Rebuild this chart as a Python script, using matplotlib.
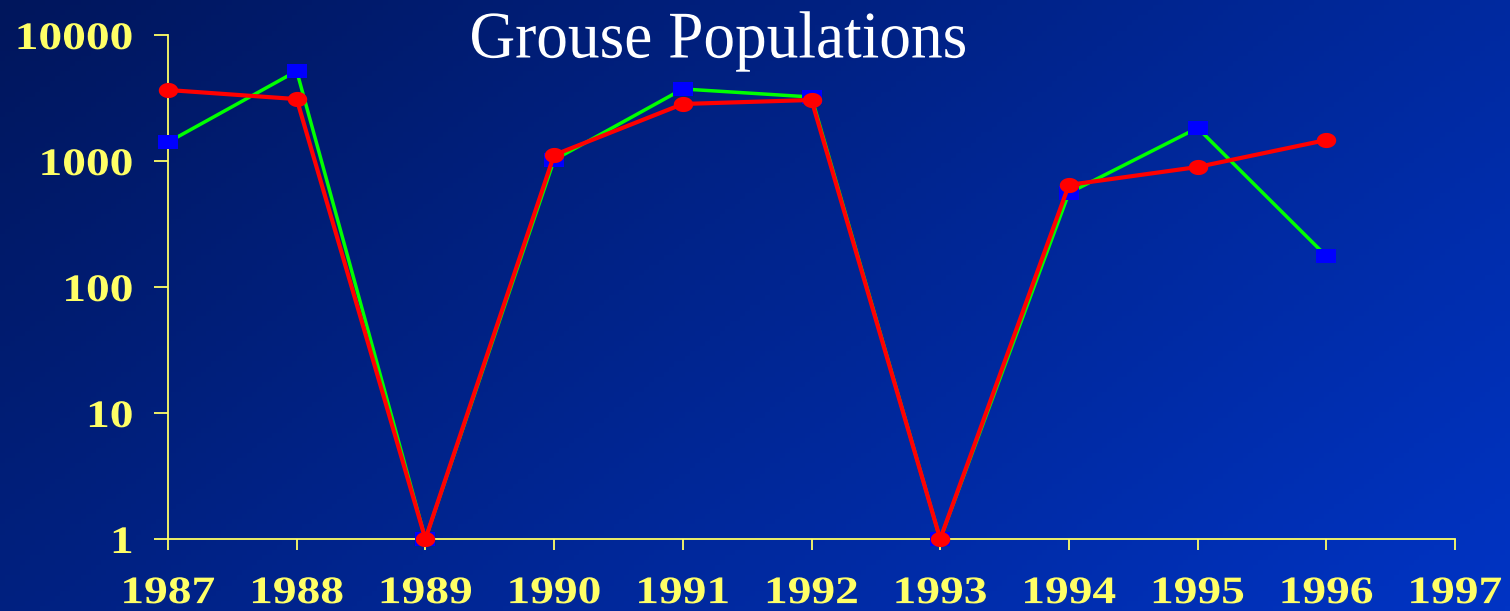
import matplotlib
matplotlib.use("Agg")
import matplotlib.pyplot as plt
import numpy as np
from matplotlib.path import Path
from matplotlib.patheffects import AbstractPathEffect
from matplotlib.transforms import Affine2D
from matplotlib.ticker import FixedLocator, NullLocator, FixedFormatter

YEARS = [1987, 1988, 1989, 1990, 1991, 1992, 1993, 1994, 1995, 1996]
GREEN_SERIES = [1410, 5180, 1, 1020, 3730, 3220, 1, 557, 1830, 176]
RED_SERIES = [3660, 3100, 1, 1116, 2835, 3050, 1, 646, 896, 1467]
X_TICKS = list(range(1987, 1998))
Y_TICKS = [1, 10, 100, 1000, 10000]
Y_LABELS = ["1", "10", "100", "1000", "10000"]

YELLOW = "#ffff66"
SERIF = ["Liberation Serif", "DejaVu Serif"]


class HStretch(AbstractPathEffect):
    """Draw text wider than the font gives, keeping one edge (or centre) put."""

    def __init__(self, sx, anchor="center"):
        super().__init__()
        self.sx = sx
        self.anchor = anchor

    def draw_path(self, renderer, gc, tpath, affine, rgbFace=None):
        ext = tpath.get_extents()
        if self.anchor == "right":
            x0 = ext.x1
        elif self.anchor == "left":
            x0 = ext.x0
        else:
            x0 = 0.5 * (ext.x0 + ext.x1)
        stretch = Affine2D().translate(-x0, 0).scale(self.sx, 1).translate(x0, 0)
        renderer.draw_path(gc, tpath, stretch + affine, rgbFace)


# wide markers: the original slide is stretched sideways
theta = np.linspace(0, 2 * np.pi, 61)
ELLIPSE = Path(np.column_stack([np.cos(theta), 0.78 * np.sin(theta)]), closed=True)
RECT = Path([(-1, -0.74), (1, -0.74), (1, 0.74), (-1, 0.74), (-1, -0.74)], closed=True)

fig = plt.figure(figsize=(15.1, 6.11), dpi=100)

# diagonal gradient background: dark navy top-left -> brighter blue bottom-right
bg = fig.add_axes([0, 0, 1, 1], zorder=-10)
gx, gy = np.meshgrid(np.linspace(0, 1, 300), np.linspace(0, 1, 120))
t = (gx * 0.65 + gy * 0.35)
c0 = np.array([0, 22, 92]) / 255.0
c1 = np.array([0, 52, 196]) / 255.0
img = c0[None, None, :] * (1 - t[..., None]) + c1[None, None, :] * t[..., None]
bg.imshow(img, aspect="auto", extent=[0, 1, 0, 1], origin="upper")
bg.axis("off")

ax = fig.add_axes([168 / 1510, 1 - 539 / 611, (1455 - 168) / 1510, (539 - 35) / 611])
ax.patch.set_alpha(0)

ax.plot(YEARS, GREEN_SERIES, color="#00ff00", lw=2.5, marker=RECT, ms=14,
        mfc="#0000ff", mec="#0000ff", mew=0, clip_on=False, zorder=3)
ax.plot(YEARS, RED_SERIES, color="#ff0000", lw=3.0, marker=ELLIPSE, ms=14,
        mfc="#ff0000", mec="#ff0000", mew=0, clip_on=False, zorder=4)

ax.set_yscale("log")
ax.set_xlim(1987, 1997)
ax.set_ylim(1, 10000)
ax.xaxis.set_major_locator(FixedLocator(X_TICKS))
ax.yaxis.set_major_locator(FixedLocator(Y_TICKS))
ax.yaxis.set_major_formatter(FixedFormatter(Y_LABELS))
ax.yaxis.set_minor_locator(NullLocator())
ax.xaxis.set_minor_locator(NullLocator())

for side in ["top", "right"]:
    ax.spines[side].set_visible(False)
for side in ["left", "bottom"]:
    ax.spines[side].set_color(YELLOW)
    ax.spines[side].set_linewidth(1.3)

ax.tick_params(axis="y", direction="out", length=10, width=1.3, color=YELLOW, pad=15)
ax.tick_params(axis="x", direction="out", length=8, width=1.3, color=YELLOW, pad=18)
for lab in ax.get_yticklabels():
    lab.set_path_effects([HStretch(1.22, "right")])
for lab in ax.get_xticklabels():
    lab.set_path_effects([HStretch(1.22, "center")])
for lab in ax.get_xticklabels() + ax.get_yticklabels():
    lab.set_family(SERIF)
    lab.set_fontweight("bold")
    lab.set_fontsize(28)
    lab.set_color(YELLOW)

fig.text(718 / 1510, 1 - 41 / 611, "Grouse Populations", family=SERIF, fontsize=48,
         color="white", ha="center", va="center",
         path_effects=[HStretch(0.95, "center")])

fig.savefig("out.png", dpi=100)
